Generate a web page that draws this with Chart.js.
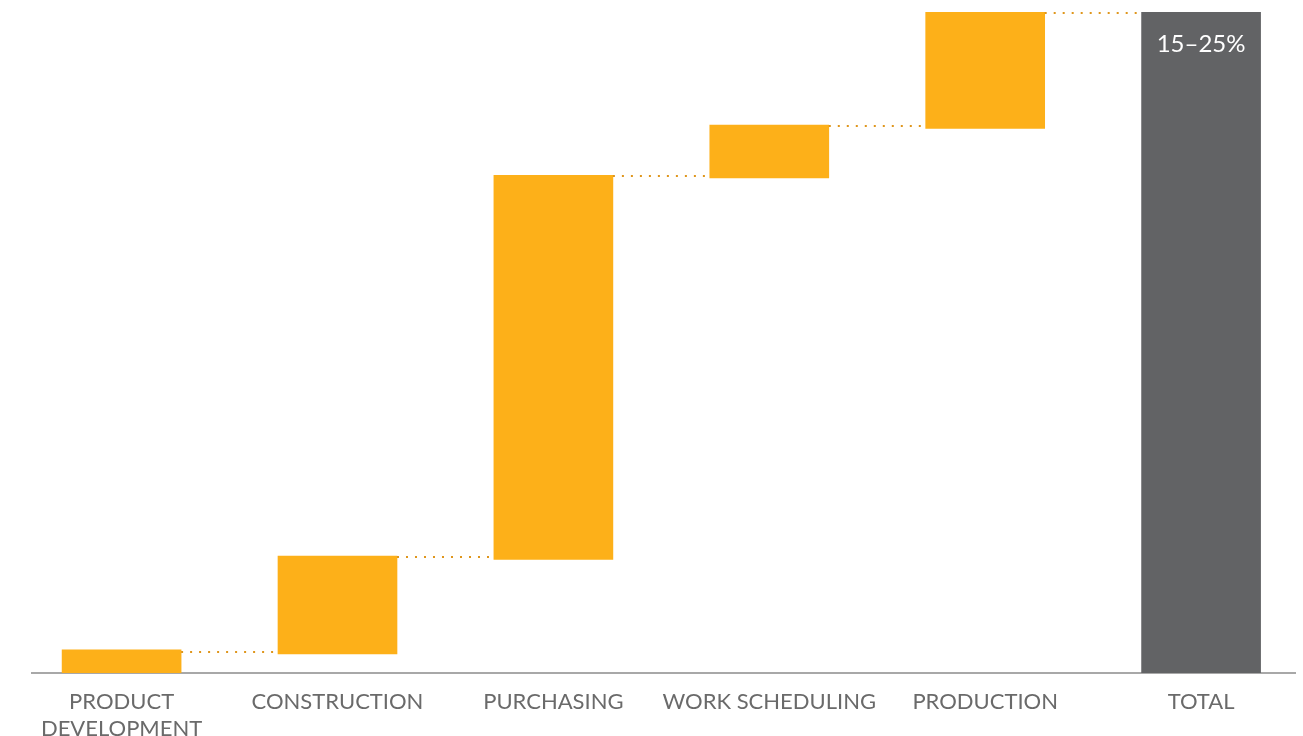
<!DOCTYPE html>
<html>
<head>
<meta charset="utf-8">
<script src="https://cdn.jsdelivr.net/npm/chart.js@4/dist/chart.umd.min.js"></script>
<style>
    html, body { margin: 0; padding: 0; background: #fff; }
    #wrap { width: 1303px; height: 736px; }
</style>
</head>
<body>
<div id="wrap"><canvas id="chart"></canvas></div>
<script>
const categories = [['PRODUCT', 'DEVELOPMENT'], 'CONSTRUCTION', 'PURCHASING', 'WORK SCHEDULING', 'PRODUCTION', 'TOTAL'];
const lows = [0, 2.9, 17.2, 74.9, 82.4, 0];
const highs = [3.5, 17.7, 75.3, 82.9, 100, 100];
const connectors = [3.2, 17.5, 75.2, 82.7, 99.8];
const totalLabel = '15–25%';

const ORANGE = '#fdb019';
const GREY = '#626365';

let bars = [];
for (let i = 0; i < categories.length; i++) {
    bars.push({x: i, y: [lows[i], highs[i]]});
}

// dotted lines between neighbouring bars
const connectorPlugin = {
    id: 'connectors',
    afterDatasetsDraw(chart) {
        let meta = chart.getDatasetMeta(0);
        let yScale = chart.scales.y;
        let ctx = chart.ctx;
        ctx.save();
        ctx.strokeStyle = '#df961c';
        ctx.lineWidth = 2;
        ctx.setLineDash([2, 7]);
        for (let i = 0; i < connectors.length; i++) {
            let a = meta.data[i];
            let b = meta.data[i + 1];
            let y = Math.round(yScale.getPixelForValue(connectors[i]));
            ctx.beginPath();
            ctx.moveTo(a.x + a.width / 2, y);
            ctx.lineTo(b.x - b.width / 2, y);
            ctx.stroke();
        }
        // label inside total bar
        let t = meta.data[meta.data.length - 1];
        ctx.setLineDash([]);
        ctx.fillStyle = '#ffffff';
        ctx.font = '24px Lato';
        ctx.textAlign = 'center';
        ctx.textBaseline = 'middle';
        ctx.fillText(totalLabel, t.x, t.y + 32);
        ctx.restore();
    }
};

new Chart(document.getElementById('chart'), {
    type: 'bar',
    data: {
        datasets: [{
            data: bars,
            backgroundColor: categories.map((c, i) => i === categories.length - 1 ? GREY : ORANGE),
            barThickness: 119,
            borderSkipped: false
        }]
    },
    options: {
        responsive: true,
        maintainAspectRatio: false,
        animation: false,
        layout: {padding: {top: 12, left: 32, right: 8, bottom: 0}},
        plugins: {legend: {display: false}, tooltip: {enabled: false}},
        scales: {
            x: {
                type: 'linear',
                offset: false,
                min: -0.415,
                max: 5.435,
                grid: {display: false, drawTicks: false},
                border: {color: '#a8a8a8', width: 2},
                afterBuildTicks(scale) {
                    scale.ticks = categories.map((c, i) => ({value: i}));
                },
                afterFit(scale) {
                    scale.height = 63;
                },
                ticks: {
                    autoSkip: false,
                    maxRotation: 0,
                    padding: 16,
                    color: '#6a6a6a',
                    font: {family: 'Lato', size: 22},
                    callback: (v) => categories[v]
                }
            },
            y: {
                display: false,
                min: 0,
                max: 100
            }
        }
    },
    plugins: [connectorPlugin]
});
</script>
</body>
</html>
